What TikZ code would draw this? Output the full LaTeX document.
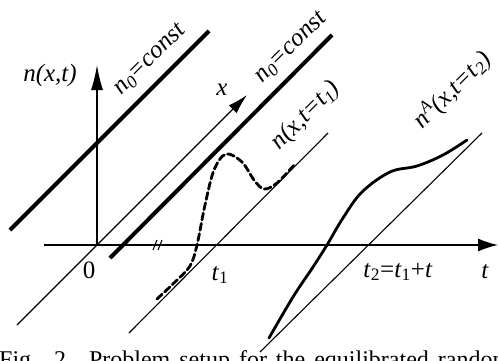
\documentclass[tikz,border=0pt]{standalone}
\usepackage{fontspec}
\setmainfont{Liberation Serif}
\usetikzlibrary{arrows.meta}

\begin{document}
\begin{tikzpicture}[x=1pt, y=-1pt,
  thk/.style={line width=4pt},
  thn/.style={line width=1.1pt},
  ax/.style={line width=1.4pt},
  crv/.style={line width=2.8pt, line cap=round},
  lbl/.style={font=\fontsize{25}{30}\selectfont\itshape, inner sep=0pt},
  num/.style={font=\fontsize{25}{30}\selectfont, inner sep=0pt}]
\useasboundingbox (0,0) rectangle (498,361);
\clip (0,0) rectangle (498,361);
% axes
\coordinate (o) at (97,245);
\coordinate (tl) at (44,245);
\coordinate (tr) at (498,245);
\coordinate (nt) at (97,65);
\coordinate (xb) at (17,325);
\coordinate (xt) at (247,95);
\draw[ax, -{Latex[length=20pt,width=13pt]}] (tl) -- (tr);
\draw[ax, -{Latex[length=25pt,width=12pt]}] (o) -- (nt);
\draw[thn, -{Latex[length=20pt,width=11pt]}] (xb) -- (xt);
\draw[thn] (153,250) -- (157,240) (158,250) -- (162,240);
% n0 = const lines
\coordinate (a1) at (10,230);
\coordinate (a2) at (209,31);
\coordinate (b1) at (110,258);
\coordinate (b2) at (332,35);
\draw[thk] (a1) -- (a2);
\draw[thk] (b1) -- (b2);
% time slices
\coordinate (c1) at (129,333);
\coordinate (c2) at (328,133);
\coordinate (d1) at (260,352);
\coordinate (d2) at (482,133);
\draw[thn] (c1) -- (c2);
\draw[thn] (d1) -- (d2);
% profiles
\draw[crv, dash pattern=on 7pt off 3.5pt] plot[smooth, tension=0.55] coordinates {
  (157,299) (175,282) (190,266) (197,245) (205,205) (214,170) (226,154)
  (242,162) (254,180) (264,189) (277,183) (295,164)};
\draw[crv] plot[smooth, tension=0.6] coordinates {
  (269,338) (293,297) (313,267) (327,245) (343,218) (362,192) (390,172)
  (417,166) (443,155) (467,140)};
% labels
\node[lbl] (nxt) at (50,75) {n(x,t)};
\node[lbl] (xlbl) at (222,90) {x};
\node[lbl, rotate=45] (alb) at (150,60) {n\textsubscript{0}=const};
\node[lbl, rotate=45] (blb) at (291,48) {n\textsubscript{0}=const};
\node[lbl, rotate=45] (clb) at (306,116) {n(x,t=t\textsubscript{1})};
\node[lbl, rotate=45] (dlb) at (452,90) {n\textsuperscript{A}(x,t=t\textsubscript{2})};
\node[num] (zero) at (89,270) {0};
\node[num] (t1) at (220,275) {\textit{t}\textsubscript{1}};
\node[num] (t2) at (398,272) {\textit{t}\textsubscript{2}=\textit{t}\textsubscript{1}+\textit{t}};
\node[num] (tt) at (485,272) {\textit{t}};
% caption
\node[anchor=base west, inner sep=0pt, font=\fontsize{24}{28}\selectfont] (cap) at (-1,367)
  {\makebox[512pt][s]{Fig. 2. Problem setup for the equilibrated random}};
\end{tikzpicture}
\end{document}
